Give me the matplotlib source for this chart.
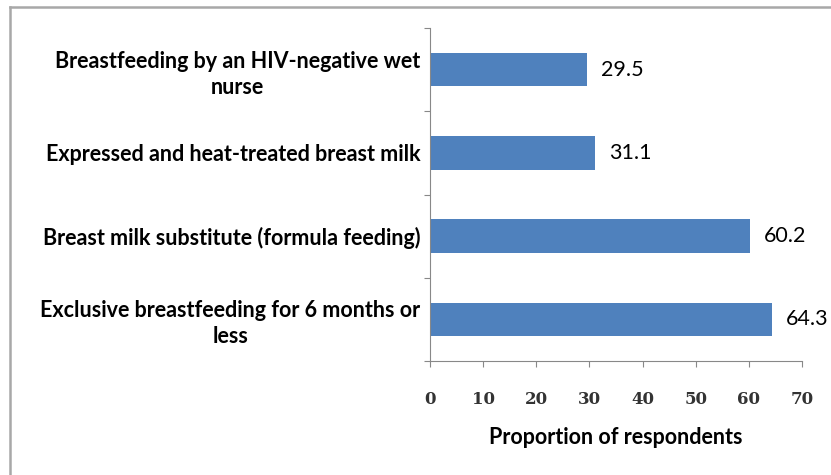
import matplotlib.pyplot as plt
from matplotlib.lines import Line2D

# categories listed bottom to top, as drawn
categories = [
    "Exclusive breastfeeding for 6 months or\nless",
    "Breast milk substitute (formula feeding)",
    "Expressed and heat-treated breast milk",
    "Breastfeeding by an HIV-negative wet\nnurse",
]
values = [64.3, 60.2, 31.1, 29.5]
x_ticks = [0, 10, 20, 30, 40, 50, 60, 70]

BAR_COLOR = "#4F81BD"
LABEL_FONT = "Lato"
FS = 15.5

fig = plt.figure(figsize=(8.31, 4.75), dpi=100)
ax = fig.add_axes([430 / 831, 1 - 361 / 475, 372 / 831, (361 - 28) / 475])

pos = list(range(len(categories)))
ax.barh(pos, values, height=0.4, color=BAR_COLOR)

for y, v in zip(pos, values):
    ax.annotate(f"{v:.1f}", (v, y), xytext=(10, 0), textcoords="offset points",
                va="center", ha="left", fontsize=FS, family=LABEL_FONT,
                color="black")

ax.set_xlim(0, 70)
ax.set_ylim(-0.5, len(categories) - 0.5)
ax.set_xticks(x_ticks)
ax.set_xticklabels([str(t) for t in x_ticks], family="DejaVu Serif",
                   fontsize=12, fontweight="bold", color="#333333")

# tick marks sit on category boundaries, labels in between
ax.set_yticks([p - 0.5 for p in pos] + [len(pos) - 0.5])
ax.set_yticklabels([])
ax.set_yticks(pos, minor=True)
ax.set_yticklabels(categories, minor=True, family=LABEL_FONT, fontsize=FS,
                   fontweight="bold")
for t in ax.get_yticklabels(minor=True):
    t.set_multialignment("center")
    t.set_linespacing(1.3)
ax.tick_params(axis="y", which="minor", length=0, pad=7)
ax.tick_params(axis="y", which="major", length=4.5, color="#888888")
ax.tick_params(axis="x", length=4.5, color="#888888", pad=17)

ax.set_xlabel("Proportion of respondents", family=LABEL_FONT, fontsize=FS,
              fontweight="bold", labelpad=14)

for side in ["top", "right"]:
    ax.spines[side].set_visible(False)
for side in ["left", "bottom"]:
    ax.spines[side].set_color("#888888")

# chart-area frame: only the top and left edges show in the crop
fig.add_artist(Line2D([9.5 / 831, 9.5 / 831], [0, 1 - 6.5 / 475],
                      transform=fig.transFigure, color="#a8a8a8", lw=1.8))
fig.add_artist(Line2D([9.5 / 831, 1], [1 - 6.5 / 475, 1 - 6.5 / 475],
                      transform=fig.transFigure, color="#a8a8a8", lw=1.8))

fig.savefig("out.png", dpi=100)
